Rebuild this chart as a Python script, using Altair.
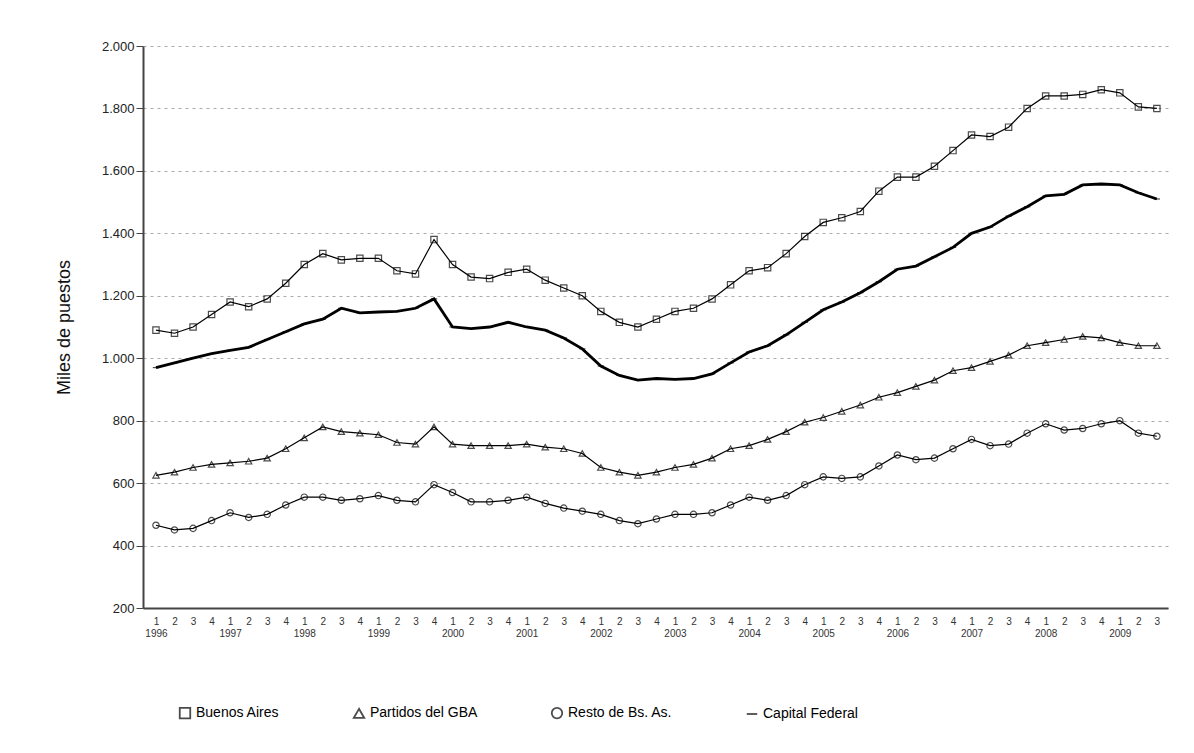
import altair as alt
import pandas as pd

years = list(range(1996, 2010))

buenos_aires = [1090, 1080, 1100, 1140, 1180, 1165, 1190, 1240, 1300, 1335, 1315, 1320,
                1320, 1280, 1270, 1380, 1300, 1260, 1255, 1275, 1285, 1250, 1225, 1200,
                1150, 1115, 1100, 1125, 1150, 1160, 1190, 1235, 1280, 1290, 1335, 1390,
                1435, 1450, 1470, 1535, 1580, 1580, 1615, 1665, 1715, 1710, 1740, 1800,
                1840, 1840, 1845, 1860, 1850, 1805, 1800]
partidos = [625, 635, 650, 660, 665, 670, 680, 710, 745, 780, 765, 760,
            755, 730, 725, 780, 725, 720, 720, 720, 725, 715, 710, 695,
            650, 635, 625, 635, 650, 660, 680, 710, 720, 740, 765, 795,
            810, 830, 850, 875, 890, 910, 930, 960, 970, 990, 1010, 1040,
            1050, 1060, 1070, 1065, 1050, 1040, 1040]
resto = [465, 450, 455, 480, 505, 490, 500, 530, 555, 555, 545, 550,
         560, 545, 540, 595, 570, 540, 540, 545, 555, 535, 520, 510,
         500, 480, 470, 485, 500, 500, 505, 530, 555, 545, 560, 595,
         620, 615, 620, 655, 690, 675, 680, 710, 740, 720, 725, 760,
         790, 770, 775, 790, 800, 760, 750]
capital = [970, 985, 1000, 1015, 1025, 1035, 1060, 1085, 1110, 1125, 1160, 1145,
           1148, 1150, 1160, 1190, 1100, 1095, 1100, 1115, 1100, 1090, 1065, 1030,
           975, 945, 930, 935, 932, 935, 950, 985, 1020, 1040, 1075, 1115,
           1155, 1180, 1210, 1245, 1285, 1295, 1325, 1355, 1400, 1420, 1455, 1485,
           1520, 1525, 1555, 1558, 1555, 1530, 1510]

series = ["Buenos Aires", "Partidos del GBA", "Resto de Bs. As.", "Capital Federal"]
rows = []
for name, vals in zip(series, [buenos_aires, partidos, resto, capital]):
    for i, v in enumerate(vals):
        rows.append({"idx": i, "serie": name, "valor": v})
df = pd.DataFrame(rows)

x = alt.X("idx:Q", title=None,
          scale=alt.Scale(domain=[-0.7, 54.6], nice=False, zero=False),
          axis=alt.Axis(values=list(range(55)), grid=False, ticks=False,
                        labelFontSize=10, labelPadding=8, labelColor="#333",
                        domainColor="#444", domainWidth=2,
                        labelExpr="datum.value % 4 == 0 ? [''+(datum.value % 4 + 1), ''+(1996 + floor(datum.value / 4))] : [''+(datum.value % 4 + 1), '']"))
y = alt.Y("valor:Q", title="Miles de puestos",
          scale=alt.Scale(domain=[200, 2000], nice=False),
          axis=alt.Axis(values=list(range(200, 2001, 200)), gridDash=[3, 4], gridColor="#aaa",
                        labelExpr="replace(format(datum.value, ','), ',', '.')",
                        labelFontSize=13, labelColor="#222", titleFontSize=18,
                        titleFontWeight="normal", titleColor="#111",
                        titlePadding=28, tickSize=7, domainColor="#444", tickColor="#444",
                        domainWidth=2))

lines = alt.Chart(df).mark_line(color="black").encode(
    x=x, y=y, detail="serie:N",
    strokeWidth=alt.condition("datum.serie == 'Capital Federal'", alt.value(2.8), alt.value(1.2)),
)
points = alt.Chart(df).mark_point(filled=False, color="black", size=40, strokeWidth=1.2).encode(
    x=x, y=y,
    shape=alt.Shape("serie:N", sort=series,
                    scale=alt.Scale(domain=series, range=["square", "triangle-up", "circle", "stroke"]),
                    legend=alt.Legend(title=None, orient="none", direction="horizontal",
                                      legendX=35, legendY=660,
                                      labelFontSize=14, symbolSize=110, symbolStrokeWidth=1.8,
                                      columnPadding=70, symbolStrokeColor="black")),
)

chart = (lines + points).properties(
    width=1025, height=562, padding={"left": 47, "top": 32, "right": 5, "bottom": 5}
).configure(font="Liberation Sans").configure_view(stroke=None)

chart.save("out.html", embed_options={"renderer": "svg", "actions": False})
